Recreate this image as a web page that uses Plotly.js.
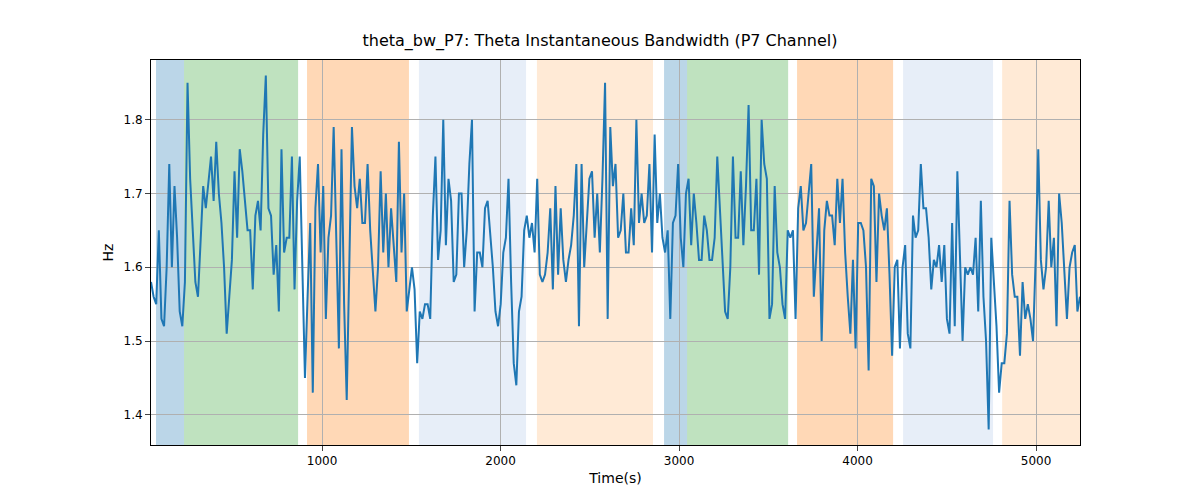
<!DOCTYPE html><html><head><script src="https://cdn.plot.ly/plotly-3.0.1.min.js"></script></head><body style="margin:0"><div id="c" style="width:1200px;height:500px"></div><script>
const values=[1.58,1.56,1.55,1.65,1.53,1.52,1.60,1.74,1.60,1.71,1.64,1.54,1.52,1.58,1.85,1.72,1.65,1.58,1.56,1.64,1.71,1.68,1.72,1.75,1.69,1.77,1.70,1.66,1.60,1.51,1.56,1.61,1.73,1.64,1.76,1.73,1.69,1.65,1.65,1.57,1.67,1.69,1.65,1.78,1.86,1.68,1.67,1.59,1.63,1.54,1.76,1.62,1.64,1.64,1.75,1.57,1.69,1.75,1.60,1.45,1.56,1.66,1.43,1.68,1.74,1.62,1.71,1.53,1.64,1.67,1.79,1.64,1.49,1.76,1.55,1.42,1.61,1.79,1.71,1.68,1.72,1.66,1.66,1.74,1.65,1.60,1.54,1.60,1.73,1.62,1.70,1.60,1.68,1.63,1.58,1.77,1.62,1.70,1.54,1.57,1.60,1.57,1.47,1.54,1.53,1.55,1.55,1.53,1.67,1.75,1.61,1.65,1.80,1.63,1.72,1.69,1.58,1.59,1.70,1.70,1.60,1.65,1.74,1.80,1.54,1.62,1.62,1.60,1.68,1.69,1.65,1.60,1.54,1.52,1.55,1.62,1.64,1.72,1.58,1.47,1.44,1.54,1.56,1.65,1.67,1.64,1.66,1.62,1.72,1.59,1.58,1.59,1.62,1.68,1.57,1.71,1.59,1.68,1.61,1.58,1.61,1.63,1.67,1.74,1.52,1.74,1.60,1.66,1.72,1.73,1.64,1.70,1.62,1.72,1.85,1.53,1.79,1.71,1.74,1.64,1.65,1.70,1.62,1.62,1.68,1.63,1.80,1.66,1.70,1.66,1.67,1.74,1.62,1.78,1.66,1.70,1.64,1.62,1.65,1.53,1.66,1.67,1.74,1.64,1.60,1.70,1.72,1.63,1.70,1.66,1.61,1.61,1.67,1.65,1.61,1.61,1.64,1.75,1.68,1.60,1.54,1.53,1.60,1.75,1.64,1.64,1.73,1.63,1.71,1.82,1.65,1.65,1.72,1.59,1.80,1.74,1.72,1.53,1.55,1.71,1.62,1.60,1.55,1.53,1.65,1.64,1.65,1.53,1.68,1.71,1.65,1.66,1.70,1.74,1.56,1.62,1.68,1.50,1.65,1.69,1.67,1.67,1.63,1.72,1.66,1.72,1.62,1.56,1.51,1.61,1.49,1.66,1.66,1.65,1.60,1.46,1.72,1.71,1.58,1.70,1.67,1.65,1.68,1.59,1.48,1.60,1.61,1.49,1.60,1.63,1.51,1.49,1.67,1.64,1.65,1.74,1.68,1.68,1.64,1.57,1.61,1.60,1.63,1.58,1.63,1.53,1.51,1.66,1.52,1.73,1.62,1.50,1.60,1.59,1.60,1.59,1.64,1.54,1.69,1.56,1.50,1.38,1.64,1.58,1.52,1.43,1.47,1.47,1.51,1.69,1.59,1.56,1.56,1.48,1.58,1.53,1.55,1.53,1.50,1.61,1.76,1.61,1.57,1.60,1.69,1.60,1.64,1.52,1.70,1.66,1.60,1.53,1.60,1.62,1.63,1.54,1.56];
const tStart=42, tEnd=5246;
const times=values.map((v,i)=>tStart+i*(tEnd-tStart)/(values.length-1));
const bandStarts=[70,227,916,1543,2204,2916,3045,3661,4255,4810];
const bandEnds=[227,866,1487,2143,2854,3045,3611,4199,4759,5246];
const bandColors=['rgba(31,119,180,0.3)','rgba(44,160,44,0.3)','rgba(255,127,14,0.3)','rgba(174,199,232,0.3)','rgba(255,187,120,0.3)','rgba(31,119,180,0.3)','rgba(44,160,44,0.3)','rgba(255,127,14,0.3)','rgba(174,199,232,0.3)','rgba(255,187,120,0.3)'];
const shapes=bandStarts.map((s,i)=>({type:'rect',xref:'x',yref:'paper',x0:s,x1:bandEnds[i],y0:0,y1:1,fillcolor:bandColors[i],line:{width:0},layer:'below'}));
Plotly.newPlot('c',[{x:times,y:values,type:'scatter',mode:'lines',line:{color:'#1f77b4',width:2}}],{
width:1200,height:500,showlegend:false,shapes:shapes,
font:{family:'DejaVu Sans',size:12,color:'#000'},
title:{text:'theta_bw_P7: Theta Instantaneous Bandwidth (P7 Channel)',x:0.5,y:0.93,font:{size:16}},
margin:{l:151,r:120,t:60,b:55},
plot_bgcolor:'rgba(0,0,0,0)',
xaxis:{range:[42,5246],title:{text:'Time(s)',standoff:5},showgrid:true,gridcolor:'#b0b0b0',tickvals:[1000,2000,3000,4000,5000],ticks:'outside',showline:true,mirror:true,linecolor:'#000',zeroline:false},
yaxis:{range:[1.359,1.881],title:{text:'Hz'},showgrid:true,gridcolor:'#b0b0b0',tickvals:[1.4,1.5,1.6,1.7,1.8],tickformat:'.1f',ticks:'outside',showline:true,mirror:true,linecolor:'#000',zeroline:false}
},{displayModeBar:false});
</script></body></html>
